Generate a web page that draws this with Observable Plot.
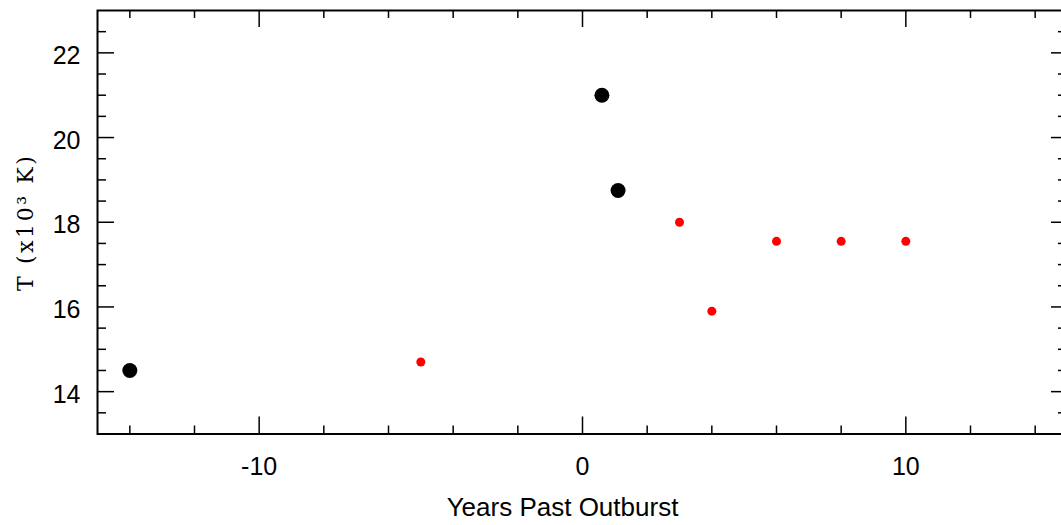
<!DOCTYPE html>
<html>
<head>
<meta charset="utf-8">
<script src="https://cdn.jsdelivr.net/npm/d3@7"></script>
<script src="https://cdn.jsdelivr.net/npm/@observablehq/plot@0.6"></script>
<style>
  html, body { margin: 0; padding: 0; background: #fff; overflow: hidden; }
  #chart { width: 1070px; }
  #chart svg { display: block; max-width: none !important; width: 1070px; height: 525px; }
  .ylabel text { letter-spacing: 2.6px; }
</style>
</head>
<body>
<div id="chart"></div>
<script>
// Black (large) points
const blackYears = [-14, 0.6, 1.1];
const blackTemps = [14.5, 21.0, 18.75];
// Red (small) points
const redYears = [-5, 3, 4, 6, 8, 10];
const redTemps = [14.7, 18.0, 15.9, 17.55, 17.55, 17.55];
// Ticks
const xMajor = [-10, 0, 10];
const xMinor = [-14, -12, -8, -6, -4, -2, 2, 4, 6, 8, 12, 14];
const yMajor = [14, 16, 18, 20, 22];
const yMinor = [13.5, 14.5, 15, 15.5, 16.5, 17, 17.5, 18.5, 19, 19.5, 20.5, 21, 21.5, 22.5];
const xTitle = "Years Past Outburst";
const yTitle = "T (x10³ K)";

const black = blackYears.map((x, i) => ({x, y: blackTemps[i]}));
const red = redYears.map((x, i) => ({x, y: redTemps[i]}));

const W = 1070, H = 525;
const mL = 97, mR = 3, mT = 10, mB = 91.5;
const pw = W - mL - mR, ph = H - mT - mB;

const chart = Plot.plot({
  width: W, height: H,
  marginLeft: mL, marginRight: mR, marginTop: mT, marginBottom: mB,
  style: {fontFamily: "'Liberation Sans', Arial, sans-serif", background: "#fff", color: "#000", maxWidth: "none"},
  x: {domain: [-15, 15], axis: null},
  y: {domain: [13, 23], axis: null},
  marks: [
    // ticks (inward)
    Plot.tickX(xMajor, {x: d => d, insetTop: ph - 17, stroke: "#000", strokeWidth: 1.5}),
    Plot.tickX(xMinor, {x: d => d, insetTop: ph - 8, stroke: "#000", strokeWidth: 1.5}),
    Plot.tickX(xMajor, {x: d => d, insetBottom: ph - 17, stroke: "#000", strokeWidth: 1.5}),
    Plot.tickX(xMinor, {x: d => d, insetBottom: ph - 8, stroke: "#000", strokeWidth: 1.5}),
    Plot.tickY(yMajor, {y: d => d, insetRight: pw - 17, stroke: "#000", strokeWidth: 1.5}),
    Plot.tickY(yMinor, {y: d => d, insetRight: pw - 9, stroke: "#000", strokeWidth: 1.5}),
    Plot.tickY(yMajor, {y: d => d, insetLeft: pw - 16, stroke: "#000", strokeWidth: 1.5}),
    Plot.tickY(yMinor, {y: d => d, insetLeft: pw - 9, stroke: "#000", strokeWidth: 1.5}),
    Plot.frame({stroke: "#000", strokeWidth: 2}),
    // tick labels
    Plot.axisX(xMajor, {anchor: "bottom", tickSize: 0, tickPadding: 23.5, fontSize: 25, label: null, tickFormat: d => String(d).replace("\u2212", "-")}),
    Plot.axisY(yMajor, {anchor: "left", tickSize: 0, tickPadding: 17, fontSize: 25, label: null, dy: 3}),
    // titles
    Plot.text([xTitle], {text: d => d, frameAnchor: "bottom", dy: 73.5, dx: -20, lineAnchor: "middle", textAnchor: "middle", fontSize: 26}),
    Plot.text([yTitle], {text: d => d, frameAnchor: "left", rotate: -90, dx: -72, lineAnchor: "middle", textAnchor: "middle", fontSize: 22, fontFamily: "'DejaVu Serif', serif", fill: "#000", className: "ylabel"}),
    // data
    Plot.dot(red, {x: "x", y: "y", r: 4.5, fill: "#ff0000", stroke: "none"}),
    Plot.dot(black, {x: "x", y: "y", r: 7.5, fill: "#000", stroke: "none", symbol: "circle"})
  ]
});
document.getElementById("chart").appendChild(chart);
</script>
</body>
</html>
